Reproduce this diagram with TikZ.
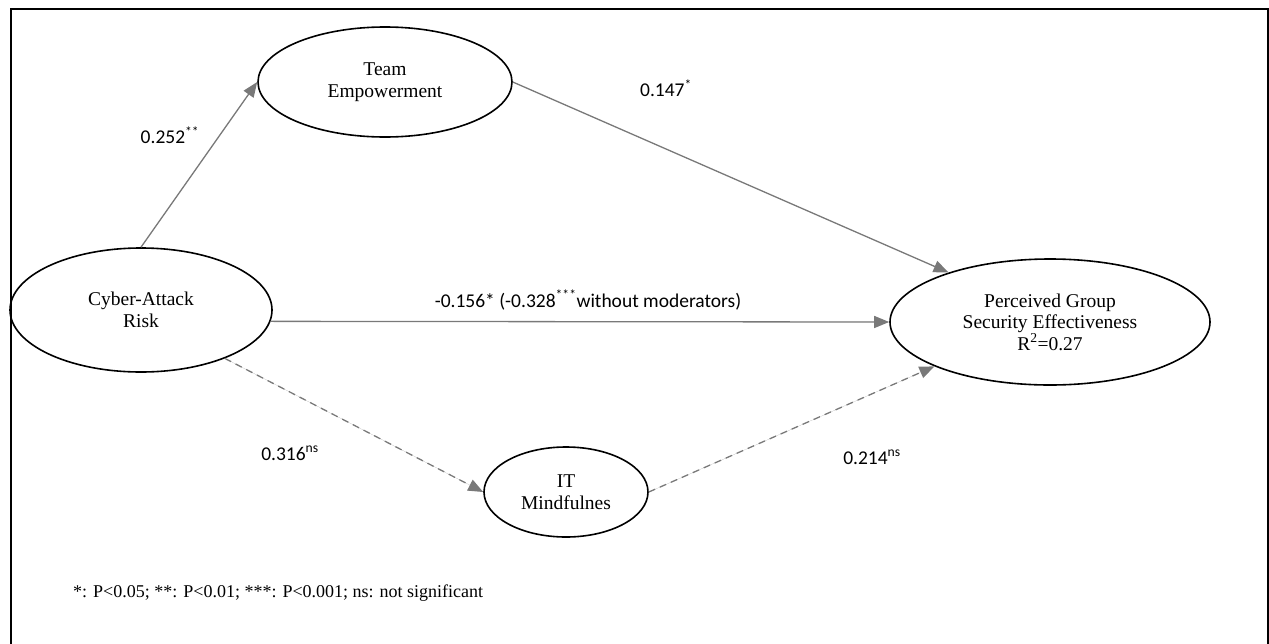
\documentclass[tikz,border=0pt]{standalone}
\usepackage{fontspec}
\setmainfont{Liberation Serif}
\newfontfamily\coeffont{Carlito}
\usepackage{tikz}
\usetikzlibrary{arrows.meta,positioning,shapes.geometric}

\begin{document}
\begin{tikzpicture}[
    x=1pt, y=-1pt,
    construct/.style={draw, ellipse, line width=1.6pt, align=center, inner sep=0pt,
      font=\fontsize{19.5}{21.5}\selectfont},
    sigpath/.style={-{Triangle[length=15pt,width=12pt]}, line width=1.3pt, draw=gray!95!black, fill=gray!95!black},
    nspath/.style={sigpath, dash pattern=on 7pt off 5pt},
    coef/.style={font=\coeffont\fontsize{19.5}{22}\selectfont, inner sep=0pt}
  ]
    \useasboundingbox (0,0) rectangle (1269,643);
    % Frame
    \draw[line width=1.6pt] (11,9) rectangle (1268,680);

    % Constructs
    \node[construct, minimum width=262pt, minimum height=124pt] (risk) at (141,310) {Cyber-Attack\\Risk};
    \node[construct, minimum width=254pt, minimum height=110pt] (team) at (385,82) {Team\\Empowerment};
    \node[construct, minimum width=164pt, minimum height=90pt] (mind) at (566,492) {IT\\Mindfulnes};
    \node[construct, minimum width=320pt, minimum height=126pt] (perc) at (1050,322) {Perceived Group\\Security Effectiveness\\R\textsuperscript{2}=0.27};

    % Paths
    \draw[sigpath] (risk.north) -- (team.west);
    \draw[sigpath] (team.east) -- (perc.154);
    \draw[sigpath] (risk.-5) -- (perc.west);
    \draw[nspath] (risk.-30) -- (mind.west);
    \draw[nspath] (mind.east) -- (perc.201);

    % Coefficients
    \node[coef] (c1) at (170,135) {0.252\textsuperscript{**}};
    \node[coef] (c2) at (666,88) {0.147\textsuperscript{*}};
    \node[coef] (c3) at (588,300) {-0.156* (-0.328\textsuperscript{***}without moderators)};
    \node[coef] (c4) at (290,453) {0.316\textsuperscript{ns}};
    \node[coef] (c5) at (872,457) {0.214\textsuperscript{ns}};

    % Legend
    \node[anchor=west, inner sep=0pt, font=\fontsize{18}{21}\selectfont] (legend) at (73,593)
      {*: P<0.05; **: P<0.01; ***: P<0.001; ns: not significant};
\end{tikzpicture}
\end{document}
